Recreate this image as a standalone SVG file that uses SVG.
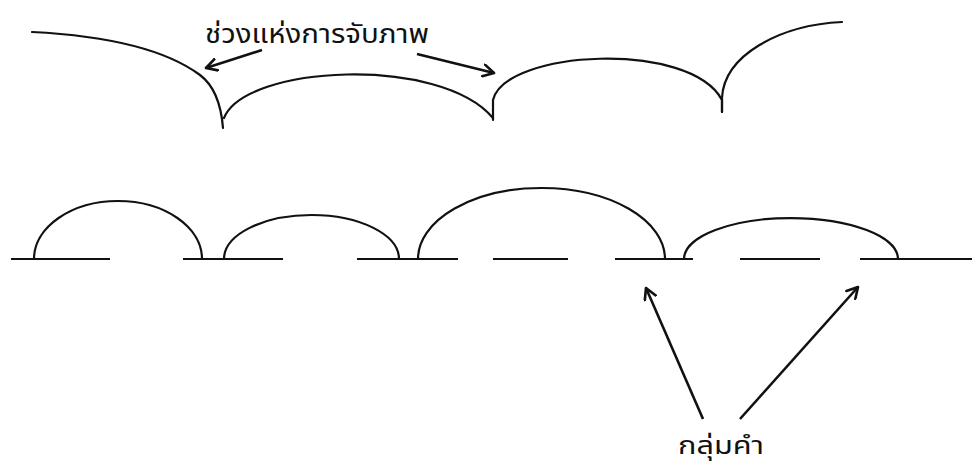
<svg xmlns="http://www.w3.org/2000/svg" width="972" height="466" viewBox="0 0 972 466">
<style>
.c{fill:none;stroke:#111;stroke-width:2.2;stroke-linecap:round}
.b{fill:none;stroke:#111;stroke-width:2}
.a{fill:none;stroke:#111;stroke-width:2.6;marker-end:url(#ah)}
.t{font-family:"Noto Sans Thai","Noto Sans","DejaVu Sans",sans-serif;fill:#111;text-anchor:middle}
</style>
<defs>
<marker id="ah" viewBox="0 0 12 12" refX="10" refY="6" markerWidth="5.5" markerHeight="5.5" orient="auto" markerUnits="strokeWidth">
<path d="M1,1 L10,6 L1,11" fill="none" stroke="#111" stroke-width="2.2" stroke-linecap="round" stroke-linejoin="round"/>
</marker>
</defs>
<rect width="972" height="466" fill="#fff"/>
<g id="top-capture">
<path class="c" d="M32,32 Q150,38 200,75 Q220,90 223,128"/>
<path class="c" d="M224,118 C245,65 440,55 493,118"/>
<path class="c" d="M493,120 L493,100 C505,50 690,40 722,100 L722,112"/>
<path class="c" d="M722,112 L722,98 C724,55 780,25 842,22"/>
</g>
<g id="label-capture">
<text class="t" x="317" y="43" font-size="26" textLength="224" lengthAdjust="spacingAndGlyphs">ช่วงแห่งการจับภาพ</text>
</g>
<g id="baseline">
<path class="b" d="M11,259 H110 M183,259 H283 M357,259 H458 M493,259 H568 M615,259 H693 M740,259 H820 M860,259 H972"/>
</g>
<g id="word-groups">
<path class="c" d="M34,259 A84,58 0 0 1 202,259"/>
<path class="c" d="M224,259 A87.5,44 0 0 1 399,259"/>
<path class="c" d="M418,259 A123.5,71 0 0 1 665,259"/>
<path class="c" d="M684,259 A107,41 0 0 1 898,259"/>
</g>
<g id="label-group">
<text class="t" x="721" y="454" font-size="25" textLength="86" lengthAdjust="spacingAndGlyphs">กลุ่มคำ</text>
</g>
<g id="connectors">
<path class="a" d="M262,50 L206,68"/>
<path class="a" d="M417,54 L494,73"/>
<path class="a" d="M703,419 L646,288"/>
<path class="a" d="M740,419 L858,287"/>
</g>
</svg>
